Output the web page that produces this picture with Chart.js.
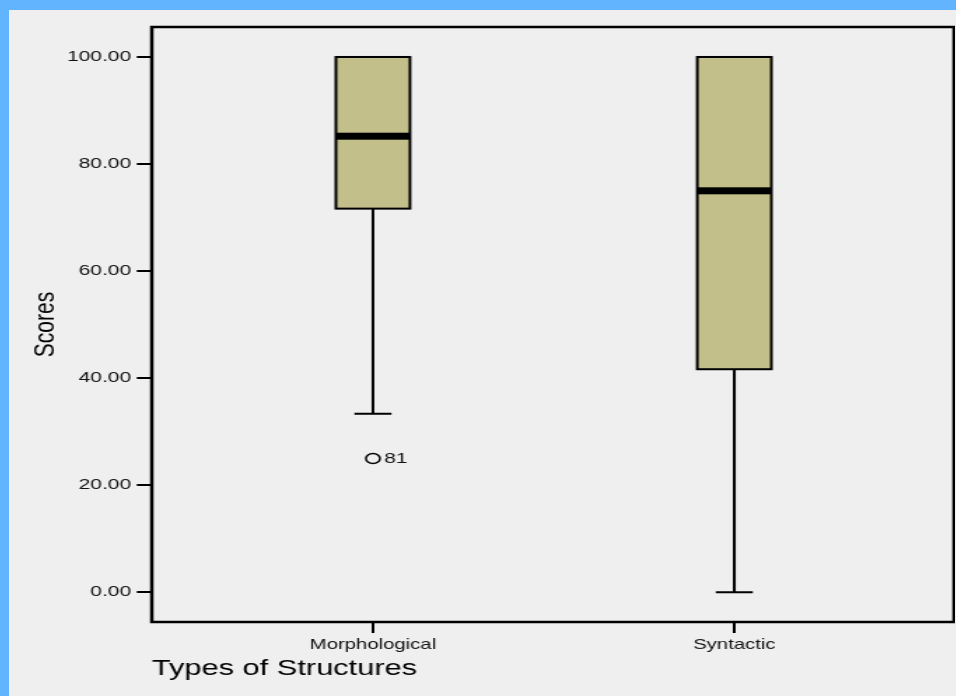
<!DOCTYPE html>
<html>
<head>
<meta charset="utf-8">
<script src="https://cdn.jsdelivr.net/npm/chart.js@4/dist/chart.umd.min.js"></script>
<style>
  body { margin: 0; width: 956px; height: 696px; overflow: hidden; background: #63b4ff; }
  #panel { position: absolute; left: 9px; top: 10px; width: 947px; height: 686px; background: #efefef; overflow: hidden; }
  /* the original picture is stretched sideways, so is this canvas */
  #chart { position: absolute; left: 0; top: 0; transform: scaleX(1.4); transform-origin: 0 0; }
</style>
</head>
<body>
<div id="panel"><canvas id="chart" width="676" height="686"></canvas></div>
<script>
// data
const categories = ["Morphological", "Syntactic"];
const whiskerLow = [33.33, 0];
const q1 = [71.67, 41.67];
const median = [85.2, 75];
const q3 = [100, 100];
const whiskerHigh = [100, 100];
const outlierCategory = [0];
const outlierValue = [25];
const outlierCase = ["81"];
const yTicks = [0, 20, 40, 60, 80, 100];

const FONT = "'Liberation Sans', Arial, sans-serif";

const boxPlugin = {
    id: "boxes",
    beforeDatasetsDraw(chart) {
        const ctx = chart.ctx;
        const xs = chart.scales.x;
        const ys = chart.scales.y;
        const step = xs.getPixelForValue(1) - xs.getPixelForValue(0);
        const half = step * 0.1025;

        ctx.save();
        categories.forEach((c, i) => {
            const cx = xs.getPixelForValue(i);
            const top = ys.getPixelForValue(q3[i]);
            const bot = ys.getPixelForValue(q1[i]);
            const lo = ys.getPixelForValue(whiskerLow[i]);
            const hi = ys.getPixelForValue(whiskerHigh[i]);

            ctx.strokeStyle = "#000";
            ctx.lineWidth = 2;
            // whiskers
            ctx.beginPath();
            ctx.moveTo(cx, bot); ctx.lineTo(cx, lo);
            ctx.moveTo(cx - half / 2, lo); ctx.lineTo(cx + half / 2, lo);
            if (hi < top) {
                ctx.moveTo(cx, top); ctx.lineTo(cx, hi);
                ctx.moveTo(cx - half / 2, hi); ctx.lineTo(cx + half / 2, hi);
            }
            ctx.stroke();

            // box
            ctx.fillStyle = "#c3bf8a";
            ctx.fillRect(cx - half, top, half * 2, bot - top);
            ctx.strokeRect(cx - half, top, half * 2, bot - top);

            // median
            const m = ys.getPixelForValue(median[i]);
            ctx.fillStyle = "#000";
            ctx.fillRect(cx - half, m - 3.5, half * 2, 7);
        });

        // outlier case numbers
        ctx.fillStyle = "#111";
        ctx.font = "15px " + FONT;
        ctx.textBaseline = "middle";
        ctx.textAlign = "left";
        outlierValue.forEach((v, k) => {
            const px = xs.getPixelForValue(outlierCategory[k]);
            const py = ys.getPixelForValue(v);
            ctx.fillText(outlierCase[k], px + 8, py);
        });
        ctx.restore();
    },
    afterDraw(chart) {
        const a = chart.chartArea;
        const ctx = chart.ctx;
        ctx.save();
        ctx.strokeStyle = "#000";
        ctx.lineWidth = 2.5;
        ctx.strokeRect(a.left, a.top, a.right - a.left, a.bottom - a.top);
        ctx.restore();
    }
};

new Chart(document.getElementById("chart"), {
    type: "scatter",
    data: {
        datasets: [{
            data: outlierValue.map((v, k) => ({ x: outlierCategory[k], y: v })),
            pointRadius: 5,
            pointBorderWidth: 1.5,
            borderColor: "#000",
            backgroundColor: "rgba(0,0,0,0)"
        }]
    },
    options: {
        responsive: false,
        animation: false,
        devicePixelRatio: 1,
        layout: {
            autoPadding: false,
            padding: { top: 17, right: 1, left: 0, bottom: 0 }
        },
        plugins: {
            legend: { display: false },
            tooltip: { enabled: false }
        },
        scales: {
            x: {
                type: "linear",
                min: -0.612,
                max: 1.608,
                afterBuildTicks: (s) => { s.ticks = categories.map((c, i) => ({ value: i })); },
                afterFit: (s) => {
                    s.height = 74;
                    s.paddingLeft = 0;
                    s.paddingRight = 0;
                },
                grid: { drawOnChartArea: false, drawTicks: true, tickLength: 11, color: "#000", lineWidth: 2 },
                border: { display: false },
                ticks: {
                    padding: 3,
                    maxRotation: 0,
                    color: "#111",
                    font: { family: FONT, size: 14.5 },
                    callback: (v) => categories[v]
                },
                title: {
                    display: true,
                    text: "Types of Structures",
                    align: "start",
                    color: "#000",
                    font: { family: FONT, size: 22 },
                    padding: { top: 0, bottom: 14 }
                }
            },
            y: {
                min: -5.55,
                max: 105.6,
                afterBuildTicks: (s) => { s.ticks = yTicks.map((v) => ({ value: v })); },
                afterFit: (s) => {
                    s.width = 102;
                    s.paddingTop = 0;
                    s.paddingBottom = 0;
                },
                grid: { drawOnChartArea: false, drawTicks: true, tickLength: 10.7, color: "#000", lineWidth: 2 },
                border: { display: false },
                ticks: {
                    padding: 4,
                    color: "#111",
                    font: { family: FONT, size: 15 },
                    callback: (v) => Number(v).toFixed(2)
                },
                title: {
                    display: true,
                    text: "Scores",
                    color: "#000",
                    font: { family: FONT, size: 21 },
                    padding: { top: 14, bottom: 0 }
                }
            }
        }
    },
    plugins: [boxPlugin]
});
</script>
</body>
</html>
